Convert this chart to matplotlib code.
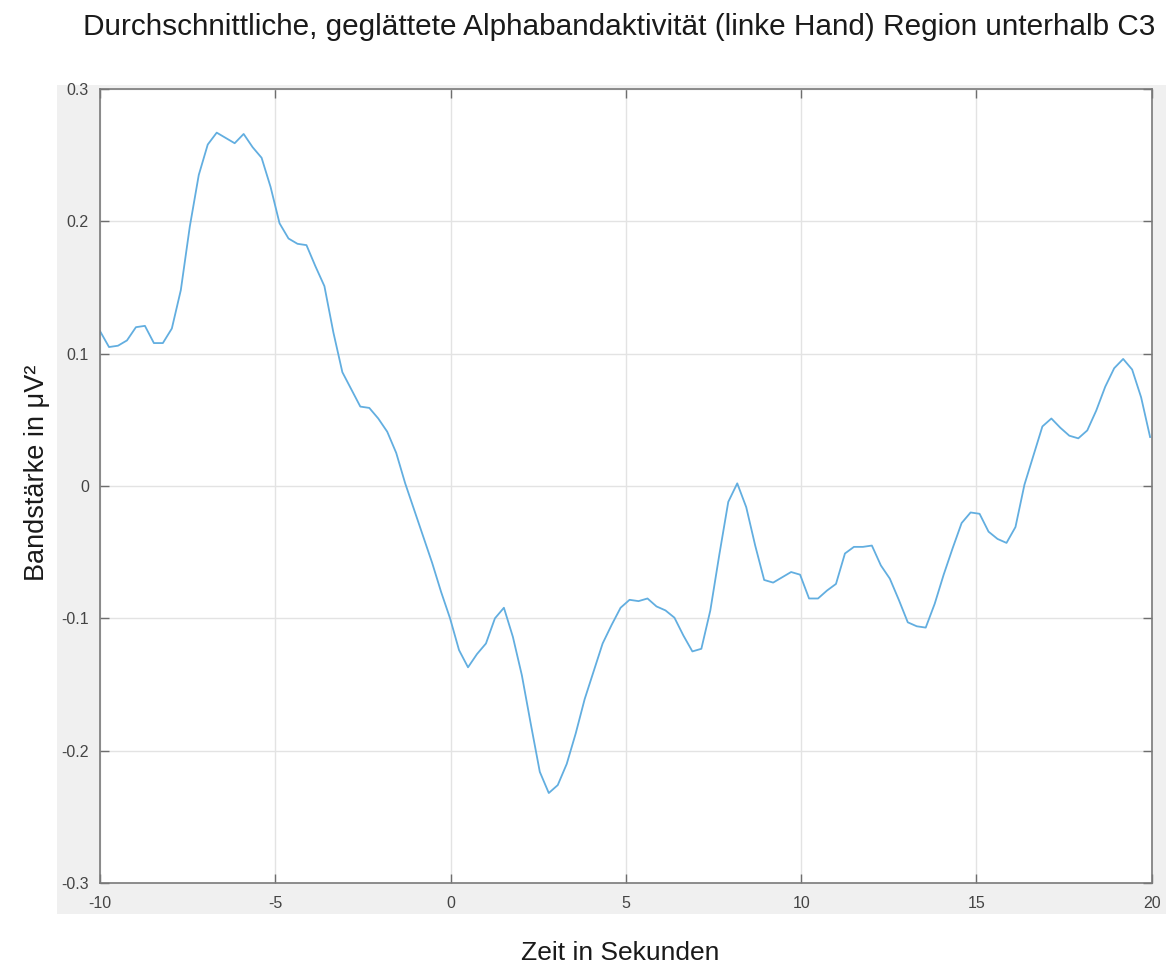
import matplotlib
matplotlib.use('Agg')
import matplotlib.pyplot as plt
import numpy as np
from matplotlib.patches import Rectangle

plt.rcParams['font.family'] = ['Liberation Sans', 'DejaVu Sans']
plt.rcParams['axes.unicode_minus'] = False

# time base: samples every 0.256 s starting at -10 s
t_start = -10.0
t_step = 0.256

# averaged, smoothed alpha band power
power = [
    0.117, 0.105, 0.106, 0.110, 0.120, 0.121, 0.108, 0.108, 0.119, 0.148,
    0.196, 0.235, 0.258, 0.267, 0.263, 0.259, 0.266, 0.256, 0.248, 0.226,
    0.1985, 0.187, 0.183, 0.182, 0.166, 0.151, 0.116, 0.086, 0.073, 0.060,
    0.059, 0.051, 0.041, 0.025, 0.002, -0.018, -0.038, -0.058, -0.080, -0.100,
    -0.124, -0.137, -0.127, -0.119, -0.100, -0.092, -0.114, -0.143, -0.180, -0.216,
    -0.232, -0.226, -0.210, -0.187, -0.161, -0.140, -0.119, -0.105, -0.092, -0.086,
    -0.087, -0.085, -0.091, -0.094, -0.0995, -0.113, -0.125, -0.123, -0.094, -0.052,
    -0.012, 0.002, -0.016, -0.045, -0.071, -0.073, -0.069, -0.065, -0.067, -0.085,
    -0.085, -0.079, -0.074, -0.051, -0.046, -0.046, -0.045, -0.060, -0.070, -0.086,
    -0.103, -0.106, -0.107, -0.089, -0.067, -0.047, -0.028, -0.020, -0.021, -0.0345,
    -0.040, -0.043, -0.031, 0.001, 0.023, 0.045, 0.051, 0.044, 0.038, 0.036,
    0.042, 0.057, 0.075, 0.089, 0.096, 0.088, 0.067, 0.037,
]
time = t_start + t_step * np.arange(len(power))

x_ticks = [-10, -5, 0, 5, 10, 15, 20]
y_ticks = [-0.3, -0.2, -0.1, 0, 0.1, 0.2, 0.3]
y_tick_labels = ['-0.3', '-0.2', '-0.1', '0', '0.1', '0.2', '0.3']

fig = plt.figure(figsize=(11.66, 9.66), dpi=100)
fig.patch.set_facecolor('white')

# grey MATLAB-like figure panel behind the axes
fig.patches.append(Rectangle((0.0489, 0.0538), 0.952, 0.858, transform=fig.transFigure,
                             facecolor='#f0f0f0', edgecolor='none', zorder=-10))

ax = fig.add_axes([0.0858, 0.0859, 0.902, 0.822])
ax.set_zorder(1)
ax.set_facecolor('white')
ax.plot(time, power, color='#62aee0', linewidth=1.3)

ax.set_xlim(-10, 20)
ax.set_ylim(-0.3, 0.3)
ax.set_xticks(x_ticks)
ax.set_xticklabels([str(v) for v in x_ticks])
ax.set_yticks(y_ticks)
ax.set_yticklabels(y_tick_labels)

ax.grid(True, color='#e3e3e3', linewidth=1.0)
ax.set_axisbelow(True)
ax.tick_params(direction='in', length=6.5, width=1.0, color='#6e6e6e',
               labelcolor='#444444', labelsize=11.5, top=True, right=True)
ax.tick_params(axis='x', pad=9)
ax.tick_params(axis='y', pad=8)
for s in ax.spines.values():
    s.set_color('#7a7a7a')
    s.set_linewidth(1.2)

fig.text(0.531, 0.972, 'Durchschnittliche, geglättete Alphabandaktivität (linke Hand) Region unterhalb C3',
         ha='center', va='center', fontsize=21.4, color='#1a1a1a')
fig.text(0.532, 0.0135, 'Zeit in Sekunden', ha='center', va='center', fontsize=19, color='#1a1a1a')
fig.text(0.0317, 0.511, 'Bandstärke in μV²', ha='center', va='center', rotation=90,
         fontsize=19.5, color='#1a1a1a')

fig.savefig('out.png', dpi=100, facecolor='white')
plt.close(fig)
